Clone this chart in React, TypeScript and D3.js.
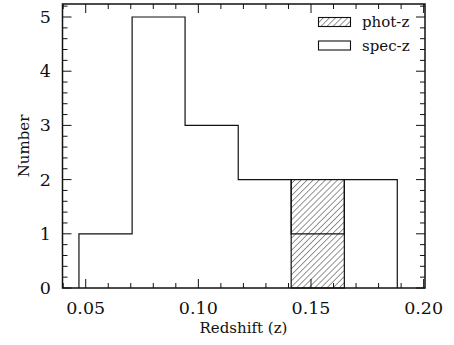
import React from "react";
import * as d3 from "d3";

const binEdges = [0.047, 0.0706, 0.0941, 0.1177, 0.1412, 0.1648, 0.1883];
const specCounts = [1, 5, 3, 2, 1, 2];
const photCounts = [0, 0, 0, 0, 2, 0];
const xMajorTicks = [0.05, 0.1, 0.15, 0.2];
const yMajorTicks = [0, 1, 2, 3, 4, 5];
const legendLabels = ["phot-z", "spec-z"];

const W = 454;
const H = 345;
const left = 62.5;
const right = 425;
const top = 4;
const bottom = 288;

export default function App() {
  const x = d3.scaleLinear().domain([0.0397, 0.2006]).range([left, right]);
  const y = d3.scaleLinear().domain([0, 5.24]).range([bottom, top]);

  const xMinor = d3.range(4, 21).map((v) => v / 100).filter((v) => !xMajorTicks.some((m) => Math.abs(m - v) < 1e-9));
  const yMinor = d3.range(0, 27).map((v) => v / 5).filter((v) => v <= 5.24 && Math.abs(v - Math.round(v)) > 1e-9);

  const stepPts: [number, number][] = [];
  stepPts.push([x(binEdges[0]), y(0)]);
  specCounts.forEach((c, i) => {
    stepPts.push([x(binEdges[i]), y(c)]);
    stepPts.push([x(binEdges[i + 1]), y(c)]);
  });
  stepPts.push([x(binEdges[binEdges.length - 1]), y(0)]);
  const stepPath = d3.line()(stepPts) as string;

  const font = "DejaVu Serif, serif";
  const ink = "#111";
  const maj = 9;
  const mnr = 5;
  const ts = { fontFamily: font };

  return (
    <svg width={W} height={H} style={{ position: "absolute", left: 0, top: 0, background: "#fff", fontFamily: font }}>
      <defs>
        <pattern id="hatch" patternUnits="userSpaceOnUse" width="4.3" height="4.3" patternTransform="rotate(45)">
          <line x1="0" y1="0" x2="0" y2="4.3" stroke={ink} strokeWidth="0.9" />
        </pattern>
      </defs>
      <rect x={0} y={0} width={W} height={H} fill="#fff" />
      {photCounts.map((c, i) =>
        c > 0 ? (
          <rect
            key={"p" + i}
            x={x(binEdges[i])}
            y={y(c)}
            width={x(binEdges[i + 1]) - x(binEdges[i])}
            height={y(0) - y(c)}
            fill="url(#hatch)"
            stroke={ink}
            strokeWidth={1.2}
          />
        ) : null
      )}
      <path d={stepPath} fill="none" stroke={ink} strokeWidth={1.2} />
      {xMajorTicks.map((t) => (
        <g key={"xm" + t}>
          <line x1={x(t)} x2={x(t)} y1={bottom} y2={bottom - maj} stroke={ink} strokeWidth={1} />
          <line x1={x(t)} x2={x(t)} y1={top} y2={top + maj} stroke={ink} strokeWidth={1} />
          <text x={x(t)} y={313.5} textAnchor="middle" fontSize={17.5} fill={ink} style={ts}>
            {t.toFixed(2)}
          </text>
        </g>
      ))}
      {xMinor.map((t) => (
        <g key={"xn" + t}>
          <line x1={x(t)} x2={x(t)} y1={bottom} y2={bottom - mnr} stroke={ink} strokeWidth={1} />
          <line x1={x(t)} x2={x(t)} y1={top} y2={top + mnr} stroke={ink} strokeWidth={1} />
        </g>
      ))}
      {yMajorTicks.map((t) => (
        <g key={"ym" + t}>
          <line x1={left} x2={left + maj} y1={y(t)} y2={y(t)} stroke={ink} strokeWidth={1} />
          <line x1={right} x2={right - maj} y1={y(t)} y2={y(t)} stroke={ink} strokeWidth={1} />
          <text x={51} y={y(t) + 6} textAnchor="end" fontSize={17.5} fill={ink} style={ts}>
            {t}
          </text>
        </g>
      ))}
      {yMinor.map((t) => (
        <g key={"yn" + t}>
          <line x1={left} x2={left + mnr} y1={y(t)} y2={y(t)} stroke={ink} strokeWidth={1} />
          <line x1={right} x2={right - mnr} y1={y(t)} y2={y(t)} stroke={ink} strokeWidth={1} />
        </g>
      ))}
      <rect x={left} y={top} width={right - left} height={bottom - top} fill="none" stroke={ink} strokeWidth={1.5} />
      <rect x={318.5} y={17.5} width={32} height={9} fill="url(#hatch)" stroke={ink} strokeWidth={1.1} />
      <text x={362} y={27} fontSize={15} fill={ink} style={ts}>{legendLabels[0]}</text>
      <rect x={318.5} y={41} width={32} height={9} fill="none" stroke={ink} strokeWidth={1.1} />
      <text x={362} y={50.5} fontSize={15} fill={ink} style={ts}>{legendLabels[1]}</text>
      <text x={243.5} y={333} textAnchor="middle" fontSize={15} fill={ink} style={ts}>Redshift (z)</text>
      <text transform={`translate(29,146) rotate(-90)`} textAnchor="middle" fontSize={15} fill={ink} style={ts}>Number</text>
    </svg>
  );
}
